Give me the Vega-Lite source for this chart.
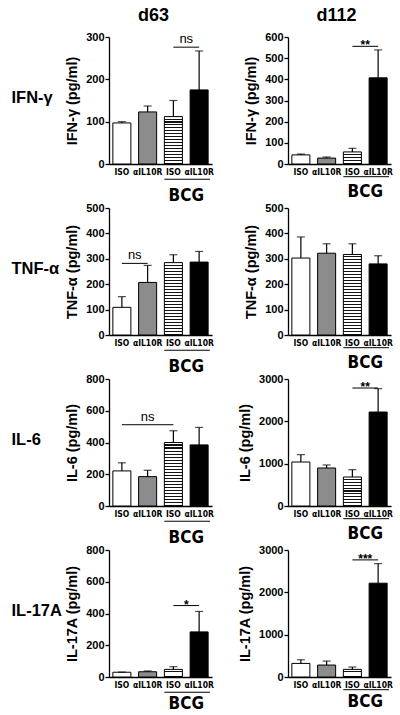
{
  "$schema": "https://vega.github.io/schema/vega-lite/v6.json",
  "padding": {"top": 7, "left": 0, "right": 0, "bottom": 0},
  "background": "white",
  "config": {
    "view": {"stroke": null},
    "font": "Liberation Sans",
    "title": {"font": "Liberation Sans", "fontSize": 18, "fontWeight": "bold", "color": "black", "offset": 6},
    "axis": {"domainColor": "black", "tickColor": "black", "labelColor": "black", "titleColor": "black", "labelFont": "Liberation Sans", "titleFont": "Liberation Sans", "labelFontWeight": "bold", "titleFontWeight": "bold", "grid": false, "domainWidth": 1.3, "tickWidth": 1.3},
    "axisY": {"labelFontSize": 11, "tickSize": 4, "labelPadding": 1, "titleFontSize": 14.5, "titlePadding": 6, "labelOverlap": false},
    "axisX": {"ticks": false, "labelAngle": 0, "labelFontSize": 8.5, "labelFont": "Liberation Sans Narrow, DejaVu Sans Condensed, Liberation Sans", "labelPadding": 3, "labelOverlap": false},
    "text": {"color": "black"}
  },
  "datasets": {
    "bars": [
      {"cyt": "IFN-γ", "day": "d63", "g": "ISO", "mean": 97, "hi": 100},
      {"cyt": "IFN-γ", "day": "d63", "g": "αIL10R", "mean": 123, "hi": 137},
      {"cyt": "IFN-γ", "day": "d63", "g": "BCG ISO", "mean": 112, "hi": 150},
      {"cyt": "IFN-γ", "day": "d63", "g": "BCG αIL10R", "mean": 175, "hi": 267},
      {"cyt": "IFN-γ", "day": "d112", "g": "ISO", "mean": 43, "hi": 47},
      {"cyt": "IFN-γ", "day": "d112", "g": "αIL10R", "mean": 28, "hi": 33},
      {"cyt": "IFN-γ", "day": "d112", "g": "BCG ISO", "mean": 57, "hi": 74},
      {"cyt": "IFN-γ", "day": "d112", "g": "BCG αIL10R", "mean": 407, "hi": 539},
      {"cyt": "TNF-α", "day": "d63", "g": "ISO", "mean": 109, "hi": 151},
      {"cyt": "TNF-α", "day": "d63", "g": "αIL10R", "mean": 207, "hi": 274},
      {"cyt": "TNF-α", "day": "d63", "g": "BCG ISO", "mean": 285, "hi": 316},
      {"cyt": "TNF-α", "day": "d63", "g": "BCG αIL10R", "mean": 287, "hi": 329},
      {"cyt": "TNF-α", "day": "d112", "g": "ISO", "mean": 303, "hi": 386},
      {"cyt": "TNF-α", "day": "d112", "g": "αIL10R", "mean": 322, "hi": 359},
      {"cyt": "TNF-α", "day": "d112", "g": "BCG ISO", "mean": 317, "hi": 359},
      {"cyt": "TNF-α", "day": "d112", "g": "BCG αIL10R", "mean": 280, "hi": 312},
      {"cyt": "IL-6", "day": "d63", "g": "ISO", "mean": 221, "hi": 272},
      {"cyt": "IL-6", "day": "d63", "g": "αIL10R", "mean": 185, "hi": 225},
      {"cyt": "IL-6", "day": "d63", "g": "BCG ISO", "mean": 400, "hi": 474},
      {"cyt": "IL-6", "day": "d63", "g": "BCG αIL10R", "mean": 385, "hi": 495},
      {"cyt": "IL-6", "day": "d112", "g": "ISO", "mean": 1039, "hi": 1213},
      {"cyt": "IL-6", "day": "d112", "g": "αIL10R", "mean": 898, "hi": 969},
      {"cyt": "IL-6", "day": "d112", "g": "BCG ISO", "mean": 685, "hi": 858},
      {"cyt": "IL-6", "day": "d112", "g": "BCG αIL10R", "mean": 2220, "hi": 2772},
      {"cyt": "IL-17A", "day": "d63", "g": "ISO", "mean": 30, "hi": 31},
      {"cyt": "IL-17A", "day": "d63", "g": "αIL10R", "mean": 33, "hi": 38},
      {"cyt": "IL-17A", "day": "d63", "g": "BCG ISO", "mean": 48, "hi": 65},
      {"cyt": "IL-17A", "day": "d63", "g": "BCG αIL10R", "mean": 284, "hi": 413},
      {"cyt": "IL-17A", "day": "d112", "g": "ISO", "mean": 321, "hi": 407},
      {"cyt": "IL-17A", "day": "d112", "g": "αIL10R", "mean": 282, "hi": 376},
      {"cyt": "IL-17A", "day": "d112", "g": "BCG ISO", "mean": 180, "hi": 235},
      {"cyt": "IL-17A", "day": "d112", "g": "BCG αIL10R", "mean": 2216, "hi": 2678}
    ],
    "sig": [
      {"cyt": "IFN-γ", "day": "d63", "from": "BCG ISO", "to": "BCG αIL10R", "y": 276, "label": "ns"},
      {"cyt": "IFN-γ", "day": "d112", "from": "BCG ISO", "to": "BCG αIL10R", "y": 556, "label": "**"},
      {"cyt": "TNF-α", "day": "d63", "from": "ISO", "to": "αIL10R", "y": 282, "label": "ns"},
      {"cyt": "IL-6", "day": "d63", "from": "ISO", "to": "BCG ISO", "y": 512, "label": "ns"},
      {"cyt": "IL-6", "day": "d112", "from": "BCG ISO", "to": "BCG αIL10R", "y": 2787, "label": "**"},
      {"cyt": "IL-17A", "day": "d63", "from": "BCG ISO", "to": "BCG αIL10R", "y": 450, "label": "*"},
      {"cyt": "IL-17A", "day": "d112", "from": "BCG ISO", "to": "BCG αIL10R", "y": 2766, "label": "***"}
    ],
    "bcg": [
      {"from": "BCG ISO", "to": "BCG αIL10R", "label": "BCG"}
    ]
  },
  "columns": 3,
  "align": "each",
  "bounds": "flush",
  "spacing": {"row": 44, "column": 76},
  "concat": [
    {"width": 33, "height": 127, "data": {"values": [{"t": "IFN-γ"}]}, "mark": {"type": "text", "align": "left", "baseline": "middle", "dx": -5, "dy": -3, "fontSize": 16.5, "fontWeight": "bold", "font": "Liberation Sans"}, "encoding": {"text": {"field": "t", "type": "nominal"}}},
    {
      "width": 103, "height": 127,
      "title": {"text": "d63", "dx": -7},
      "resolve": {"scale": {"y": "independent"}},
      "layer": [
        {"layer": [
          {"data": {"name": "bars"}, "transform": [{"filter": "datum.cyt === 'IFN-γ' && datum.day === 'd63'"}],
           "layer": [
             {"mark": {"type": "bar", "stroke": "black", "strokeWidth": 1},
              "encoding": {
                "x": {"field": "g", "type": "nominal", "sort": null, "title": null, "scale": {"domain": ["ISO", "αIL10R", "BCG ISO", "BCG αIL10R"], "paddingInner": 0.3, "paddingOuter": 0.15}, "axis": {"labelExpr": "replace(datum.label, 'BCG ', '')"}},
                "y": {"field": "mean", "type": "quantitative", "scale": {"domain": [0, 300]}, "axis": {"values": [0, 100, 200, 300], "tickCount": 4, "labelOverlap": false, "format": "d", "title": "IFN-γ (pg/ml)"}},
                "fill": {"condition": {"test": "datum.g === 'BCG ISO'", "value": {"gradient": "linear", "x1": 0, "y1": 0, "x2": 0, "y2": 1, "stops": [
                  {"offset":0,"color":"#fff"},{"offset":0.0406,"color":"#fff"},{"offset":0.0406,"color":"#111"},{"offset":0.0625,"color":"#111"},
                  {"offset":0.0625,"color":"#fff"},{"offset":0.1031,"color":"#fff"},{"offset":0.1031,"color":"#111"},{"offset":0.125,"color":"#111"},
                  {"offset":0.125,"color":"#fff"},{"offset":0.1656,"color":"#fff"},{"offset":0.1656,"color":"#111"},{"offset":0.1875,"color":"#111"},
                  {"offset":0.1875,"color":"#fff"},{"offset":0.2281,"color":"#fff"},{"offset":0.2281,"color":"#111"},{"offset":0.25,"color":"#111"},
                  {"offset":0.25,"color":"#fff"},{"offset":0.2906,"color":"#fff"},{"offset":0.2906,"color":"#111"},{"offset":0.3125,"color":"#111"},
                  {"offset":0.3125,"color":"#fff"},{"offset":0.3531,"color":"#fff"},{"offset":0.3531,"color":"#111"},{"offset":0.375,"color":"#111"},
                  {"offset":0.375,"color":"#fff"},{"offset":0.4156,"color":"#fff"},{"offset":0.4156,"color":"#111"},{"offset":0.4375,"color":"#111"},
                  {"offset":0.4375,"color":"#fff"},{"offset":0.4781,"color":"#fff"},{"offset":0.4781,"color":"#111"},{"offset":0.5,"color":"#111"},
                  {"offset":0.5,"color":"#fff"},{"offset":0.5406,"color":"#fff"},{"offset":0.5406,"color":"#111"},{"offset":0.5625,"color":"#111"},
                  {"offset":0.5625,"color":"#fff"},{"offset":0.6031,"color":"#fff"},{"offset":0.6031,"color":"#111"},{"offset":0.625,"color":"#111"},
                  {"offset":0.625,"color":"#fff"},{"offset":0.6656,"color":"#fff"},{"offset":0.6656,"color":"#111"},{"offset":0.6875,"color":"#111"},
                  {"offset":0.6875,"color":"#fff"},{"offset":0.7281,"color":"#fff"},{"offset":0.7281,"color":"#111"},{"offset":0.75,"color":"#111"},
                  {"offset":0.75,"color":"#fff"},{"offset":0.7906,"color":"#fff"},{"offset":0.7906,"color":"#111"},{"offset":0.8125,"color":"#111"},
                  {"offset":0.8125,"color":"#fff"},{"offset":0.8531,"color":"#fff"},{"offset":0.8531,"color":"#111"},{"offset":0.875,"color":"#111"},
                  {"offset":0.875,"color":"#fff"},{"offset":0.9156,"color":"#fff"},{"offset":0.9156,"color":"#111"},{"offset":0.9375,"color":"#111"},
                  {"offset":0.9375,"color":"#fff"},{"offset":0.9781,"color":"#fff"},{"offset":0.9781,"color":"#111"},{"offset":1,"color":"#111"}]}},
                  "field": "g", "type": "nominal", "scale": {"domain": ["ISO", "αIL10R", "BCG ISO", "BCG αIL10R"], "range": ["#ffffff", "#8c8c8c", "#d0d0d0", "#000000"]}, "legend": null}}},
             {"mark": {"type": "rule", "color": "black", "strokeWidth": 1.2},
              "encoding": {"x": {"field": "g", "type": "nominal", "title": null}, "y": {"field": "mean", "type": "quantitative"}, "y2": {"field": "hi"}}},
             {"mark": {"type": "tick", "color": "black", "size": 8, "thickness": 1.2},
              "encoding": {"x": {"field": "g", "type": "nominal", "title": null}, "y": {"field": "hi", "type": "quantitative"}}}
           ]},
          {"data": {"name": "sig"}, "transform": [{"filter": "datum.cyt === 'IFN-γ' && datum.day === 'd63'"}],
           "layer": [
             {"mark": {"type": "rule", "color": "black", "strokeWidth": 1},
              "encoding": {"x": {"field": "from", "type": "nominal", "title": null}, "x2": {"field": "to"}, "y": {"field": "y", "type": "quantitative"}}},
             {"mark": {"type": "text", "fontSize": 13, "baseline": "alphabetic", "dy": -4},
              "encoding": {"x": {"field": "from", "type": "nominal", "bandPosition": 1.214, "title": null}, "y": {"field": "y", "type": "quantitative"}, "text": {"field": "label"}}}
           ]}
        ]},
        {"data": {"name": "bcg"},
         "layer": [
           {"mark": {"type": "rule", "color": "black", "strokeWidth": 1},
            "encoding": {"x": {"field": "from", "type": "nominal", "bandPosition": 0, "title": null}, "x2": {"field": "to", "bandPosition": 1.1}, "y": {"datum": -0.12, "type": "quantitative", "scale": {"domain": [0, 1]}, "axis": null}}},
           {"mark": {"type": "text", "font": "Liberation Sans Narrow, DejaVu Sans Condensed, Liberation Sans", "fontWeight": "bold", "fontSize": 17, "baseline": "alphabetic"},
            "encoding": {"x": {"field": "from", "type": "nominal", "bandPosition": 1.214, "title": null}, "y": {"datum": -0.29, "type": "quantitative", "scale": {"domain": [0, 1]}, "axis": null}, "text": {"field": "label"}}}
         ]}
      ]
    },
    {
      "width": 103, "height": 127,
      "title": {"text": "d112", "dx": -3},
      "resolve": {"scale": {"y": "independent"}},
      "layer": [
        {"layer": [
          {"data": {"name": "bars"}, "transform": [{"filter": "datum.cyt === 'IFN-γ' && datum.day === 'd112'"}],
           "layer": [
             {"mark": {"type": "bar", "stroke": "black", "strokeWidth": 1},
              "encoding": {
                "x": {"field": "g", "type": "nominal", "sort": null, "title": null, "scale": {"domain": ["ISO", "αIL10R", "BCG ISO", "BCG αIL10R"], "paddingInner": 0.3, "paddingOuter": 0.15}, "axis": {"labelExpr": "replace(datum.label, 'BCG ', '')"}},
                "y": {"field": "mean", "type": "quantitative", "scale": {"domain": [0, 600]}, "axis": {"values": [0, 100, 200, 300, 400, 500, 600], "tickCount": 7, "labelOverlap": false, "format": "d", "title": "IFN-γ (pg/ml)"}},
                "fill": {"condition": {"test": "datum.g === 'BCG ISO'", "value": {"gradient": "linear", "x1": 0, "y1": 0, "x2": 0, "y2": 1, "stops": [
                  {"offset":0,"color":"#fff"},{"offset":0.1625,"color":"#fff"},{"offset":0.1625,"color":"#111"},{"offset":0.25,"color":"#111"},
                  {"offset":0.25,"color":"#fff"},{"offset":0.4125,"color":"#fff"},{"offset":0.4125,"color":"#111"},{"offset":0.5,"color":"#111"},
                  {"offset":0.5,"color":"#fff"},{"offset":0.6625,"color":"#fff"},{"offset":0.6625,"color":"#111"},{"offset":0.75,"color":"#111"},
                  {"offset":0.75,"color":"#fff"},{"offset":0.9125,"color":"#fff"},{"offset":0.9125,"color":"#111"},{"offset":1,"color":"#111"}]}},
                  "field": "g", "type": "nominal", "scale": {"domain": ["ISO", "αIL10R", "BCG ISO", "BCG αIL10R"], "range": ["#ffffff", "#8c8c8c", "#d0d0d0", "#000000"]}, "legend": null}}},
             {"mark": {"type": "rule", "color": "black", "strokeWidth": 1.2},
              "encoding": {"x": {"field": "g", "type": "nominal", "title": null}, "y": {"field": "mean", "type": "quantitative"}, "y2": {"field": "hi"}}},
             {"mark": {"type": "tick", "color": "black", "size": 8, "thickness": 1.2},
              "encoding": {"x": {"field": "g", "type": "nominal", "title": null}, "y": {"field": "hi", "type": "quantitative"}}}
           ]},
          {"data": {"name": "sig"}, "transform": [{"filter": "datum.cyt === 'IFN-γ' && datum.day === 'd112'"}],
           "layer": [
             {"mark": {"type": "rule", "color": "black", "strokeWidth": 1},
              "encoding": {"x": {"field": "from", "type": "nominal", "title": null}, "x2": {"field": "to"}, "y": {"field": "y", "type": "quantitative"}}},
             {"mark": {"type": "text", "fontSize": 12, "fontWeight": "bold", "baseline": "alphabetic", "dy": 3},
              "encoding": {"x": {"field": "from", "type": "nominal", "bandPosition": 1.214, "title": null}, "y": {"field": "y", "type": "quantitative"}, "text": {"field": "label"}}}
           ]}
        ]},
        {"data": {"name": "bcg"},
         "layer": [
           {"mark": {"type": "rule", "color": "black", "strokeWidth": 1},
            "encoding": {"x": {"field": "from", "type": "nominal", "bandPosition": 0, "title": null}, "x2": {"field": "to", "bandPosition": 1.1}, "y": {"datum": -0.1, "type": "quantitative", "scale": {"domain": [0, 1]}, "axis": null}}},
           {"mark": {"type": "text", "font": "Liberation Sans Narrow, DejaVu Sans Condensed, Liberation Sans", "fontWeight": "bold", "fontSize": 17, "baseline": "alphabetic"},
            "encoding": {"x": {"field": "from", "type": "nominal", "bandPosition": 1.214, "title": null}, "y": {"datum": -0.26, "type": "quantitative", "scale": {"domain": [0, 1]}, "axis": null}, "text": {"field": "label"}}}
         ]}
      ]
    },
    {"width": 33, "height": 127, "data": {"values": [{"t": "TNF-α"}]}, "mark": {"type": "text", "align": "left", "baseline": "middle", "dx": -5, "dy": -3, "fontSize": 16.5, "fontWeight": "bold", "font": "Liberation Sans"}, "encoding": {"text": {"field": "t", "type": "nominal"}}},
    {
      "width": 103, "height": 127,
      "resolve": {"scale": {"y": "independent"}},
      "layer": [
        {"layer": [
          {"data": {"name": "bars"}, "transform": [{"filter": "datum.cyt === 'TNF-α' && datum.day === 'd63'"}],
           "layer": [
             {"mark": {"type": "bar", "stroke": "black", "strokeWidth": 1},
              "encoding": {
                "x": {"field": "g", "type": "nominal", "sort": null, "title": null, "scale": {"domain": ["ISO", "αIL10R", "BCG ISO", "BCG αIL10R"], "paddingInner": 0.3, "paddingOuter": 0.15}, "axis": {"labelExpr": "replace(datum.label, 'BCG ', '')"}},
                "y": {"field": "mean", "type": "quantitative", "scale": {"domain": [0, 500]}, "axis": {"values": [0, 100, 200, 300, 400, 500], "tickCount": 6, "labelOverlap": false, "format": "d", "title": "TNF-α (pg/ml)"}},
                "fill": {"condition": {"test": "datum.g === 'BCG ISO'", "value": {"gradient": "linear", "x1": 0, "y1": 0, "x2": 0, "y2": 1, "stops": [
                  {"offset":0,"color":"#fff"},{"offset":0.0271,"color":"#fff"},{"offset":0.0271,"color":"#111"},{"offset":0.0417,"color":"#111"},
                  {"offset":0.0417,"color":"#fff"},{"offset":0.0688,"color":"#fff"},{"offset":0.0688,"color":"#111"},{"offset":0.0833,"color":"#111"},
                  {"offset":0.0833,"color":"#fff"},{"offset":0.1104,"color":"#fff"},{"offset":0.1104,"color":"#111"},{"offset":0.125,"color":"#111"},
                  {"offset":0.125,"color":"#fff"},{"offset":0.1521,"color":"#fff"},{"offset":0.1521,"color":"#111"},{"offset":0.1667,"color":"#111"},
                  {"offset":0.1667,"color":"#fff"},{"offset":0.1938,"color":"#fff"},{"offset":0.1938,"color":"#111"},{"offset":0.2083,"color":"#111"},
                  {"offset":0.2083,"color":"#fff"},{"offset":0.2354,"color":"#fff"},{"offset":0.2354,"color":"#111"},{"offset":0.25,"color":"#111"},
                  {"offset":0.25,"color":"#fff"},{"offset":0.2771,"color":"#fff"},{"offset":0.2771,"color":"#111"},{"offset":0.2917,"color":"#111"},
                  {"offset":0.2917,"color":"#fff"},{"offset":0.3188,"color":"#fff"},{"offset":0.3188,"color":"#111"},{"offset":0.3333,"color":"#111"},
                  {"offset":0.3333,"color":"#fff"},{"offset":0.3604,"color":"#fff"},{"offset":0.3604,"color":"#111"},{"offset":0.375,"color":"#111"},
                  {"offset":0.375,"color":"#fff"},{"offset":0.4021,"color":"#fff"},{"offset":0.4021,"color":"#111"},{"offset":0.4167,"color":"#111"},
                  {"offset":0.4167,"color":"#fff"},{"offset":0.4438,"color":"#fff"},{"offset":0.4438,"color":"#111"},{"offset":0.4583,"color":"#111"},
                  {"offset":0.4583,"color":"#fff"},{"offset":0.4854,"color":"#fff"},{"offset":0.4854,"color":"#111"},{"offset":0.5,"color":"#111"},
                  {"offset":0.5,"color":"#fff"},{"offset":0.5271,"color":"#fff"},{"offset":0.5271,"color":"#111"},{"offset":0.5417,"color":"#111"},
                  {"offset":0.5417,"color":"#fff"},{"offset":0.5688,"color":"#fff"},{"offset":0.5688,"color":"#111"},{"offset":0.5833,"color":"#111"},
                  {"offset":0.5833,"color":"#fff"},{"offset":0.6104,"color":"#fff"},{"offset":0.6104,"color":"#111"},{"offset":0.625,"color":"#111"},
                  {"offset":0.625,"color":"#fff"},{"offset":0.6521,"color":"#fff"},{"offset":0.6521,"color":"#111"},{"offset":0.6667,"color":"#111"},
                  {"offset":0.6667,"color":"#fff"},{"offset":0.6938,"color":"#fff"},{"offset":0.6938,"color":"#111"},{"offset":0.7083,"color":"#111"},
                  {"offset":0.7083,"color":"#fff"},{"offset":0.7354,"color":"#fff"},{"offset":0.7354,"color":"#111"},{"offset":0.75,"color":"#111"},
                  {"offset":0.75,"color":"#fff"},{"offset":0.7771,"color":"#fff"},{"offset":0.7771,"color":"#111"},{"offset":0.7917,"color":"#111"},
                  {"offset":0.7917,"color":"#fff"},{"offset":0.8188,"color":"#fff"},{"offset":0.8188,"color":"#111"},{"offset":0.8333,"color":"#111"},
                  {"offset":0.8333,"color":"#fff"},{"offset":0.8604,"color":"#fff"},{"offset":0.8604,"color":"#111"},{"offset":0.875,"color":"#111"},
                  {"offset":0.875,"color":"#fff"},{"offset":0.9021,"color":"#fff"},{"offset":0.9021,"color":"#111"},{"offset":0.9167,"color":"#111"},
                  {"offset":0.9167,"color":"#fff"},{"offset":0.9438,"color":"#fff"},{"offset":0.9438,"color":"#111"},{"offset":0.9583,"color":"#111"},
                  {"offset":0.9583,"color":"#fff"},{"offset":0.9854,"color":"#fff"},{"offset":0.9854,"color":"#111"},{"offset":1,"color":"#111"}]}},
                  "field": "g", "type": "nominal", "scale": {"domain": ["ISO", "αIL10R", "BCG ISO", "BCG αIL10R"], "range": ["#ffffff", "#8c8c8c", "#d0d0d0", "#000000"]}, "legend": null}}},
             {"mark": {"type": "rule", "color": "black", "strokeWidth": 1.2},
              "encoding": {"x": {"field": "g", "type": "nominal", "title": null}, "y": {"field": "mean", "type": "quantitative"}, "y2": {"field": "hi"}}},
             {"mark": {"type": "tick", "color": "black", "size": 8, "thickness": 1.2},
              "encoding": {"x": {"field": "g", "type": "nominal", "title": null}, "y": {"field": "hi", "type": "quantitative"}}}
           ]},
          {"data": {"name": "sig"}, "transform": [{"filter": "datum.cyt === 'TNF-α' && datum.day === 'd63'"}],
           "layer": [
             {"mark": {"type": "rule", "color": "black", "strokeWidth": 1},
              "encoding": {"x": {"field": "from", "type": "nominal", "title": null}, "x2": {"field": "to"}, "y": {"field": "y", "type": "quantitative"}}},
             {"mark": {"type": "text", "fontSize": 13, "baseline": "alphabetic", "dy": -4},
              "encoding": {"x": {"field": "from", "type": "nominal", "bandPosition": 1.214, "title": null}, "y": {"field": "y", "type": "quantitative"}, "text": {"field": "label"}}}
           ]}
        ]},
        {"data": {"name": "bcg"},
         "layer": [
           {"mark": {"type": "rule", "color": "black", "strokeWidth": 1},
            "encoding": {"x": {"field": "from", "type": "nominal", "bandPosition": 0, "title": null}, "x2": {"field": "to", "bandPosition": 1.1}, "y": {"datum": -0.12, "type": "quantitative", "scale": {"domain": [0, 1]}, "axis": null}}},
           {"mark": {"type": "text", "font": "Liberation Sans Narrow, DejaVu Sans Condensed, Liberation Sans", "fontWeight": "bold", "fontSize": 17, "baseline": "alphabetic"},
            "encoding": {"x": {"field": "from", "type": "nominal", "bandPosition": 1.214, "title": null}, "y": {"datum": -0.29, "type": "quantitative", "scale": {"domain": [0, 1]}, "axis": null}, "text": {"field": "label"}}}
         ]}
      ]
    },
    {
      "width": 103, "height": 127,
      "resolve": {"scale": {"y": "independent"}},
      "layer": [
        {"layer": [
          {"data": {"name": "bars"}, "transform": [{"filter": "datum.cyt === 'TNF-α' && datum.day === 'd112'"}],
           "layer": [
             {"mark": {"type": "bar", "stroke": "black", "strokeWidth": 1},
              "encoding": {
                "x": {"field": "g", "type": "nominal", "sort": null, "title": null, "scale": {"domain": ["ISO", "αIL10R", "BCG ISO", "BCG αIL10R"], "paddingInner": 0.3, "paddingOuter": 0.15}, "axis": {"labelExpr": "replace(datum.label, 'BCG ', '')"}},
                "y": {"field": "mean", "type": "quantitative", "scale": {"domain": [0, 500]}, "axis": {"values": [0, 100, 200, 300, 400, 500], "tickCount": 6, "labelOverlap": false, "format": "d", "title": "TNF-α (pg/ml)"}},
                "fill": {"condition": {"test": "datum.g === 'BCG ISO'", "value": {"gradient": "linear", "x1": 0, "y1": 0, "x2": 0, "y2": 1, "stops": [
                  {"offset":0,"color":"#fff"},{"offset":0.0241,"color":"#fff"},{"offset":0.0241,"color":"#111"},{"offset":0.037,"color":"#111"},
                  {"offset":0.037,"color":"#fff"},{"offset":0.0611,"color":"#fff"},{"offset":0.0611,"color":"#111"},{"offset":0.0741,"color":"#111"},
                  {"offset":0.0741,"color":"#fff"},{"offset":0.0981,"color":"#fff"},{"offset":0.0981,"color":"#111"},{"offset":0.1111,"color":"#111"},
                  {"offset":0.1111,"color":"#fff"},{"offset":0.1352,"color":"#fff"},{"offset":0.1352,"color":"#111"},{"offset":0.1481,"color":"#111"},
                  {"offset":0.1481,"color":"#fff"},{"offset":0.1722,"color":"#fff"},{"offset":0.1722,"color":"#111"},{"offset":0.1852,"color":"#111"},
                  {"offset":0.1852,"color":"#fff"},{"offset":0.2093,"color":"#fff"},{"offset":0.2093,"color":"#111"},{"offset":0.2222,"color":"#111"},
                  {"offset":0.2222,"color":"#fff"},{"offset":0.2463,"color":"#fff"},{"offset":0.2463,"color":"#111"},{"offset":0.2593,"color":"#111"},
                  {"offset":0.2593,"color":"#fff"},{"offset":0.2833,"color":"#fff"},{"offset":0.2833,"color":"#111"},{"offset":0.2963,"color":"#111"},
                  {"offset":0.2963,"color":"#fff"},{"offset":0.3204,"color":"#fff"},{"offset":0.3204,"color":"#111"},{"offset":0.3333,"color":"#111"},
                  {"offset":0.3333,"color":"#fff"},{"offset":0.3574,"color":"#fff"},{"offset":0.3574,"color":"#111"},{"offset":0.3704,"color":"#111"},
                  {"offset":0.3704,"color":"#fff"},{"offset":0.3944,"color":"#fff"},{"offset":0.3944,"color":"#111"},{"offset":0.4074,"color":"#111"},
                  {"offset":0.4074,"color":"#fff"},{"offset":0.4315,"color":"#fff"},{"offset":0.4315,"color":"#111"},{"offset":0.4444,"color":"#111"},
                  {"offset":0.4444,"color":"#fff"},{"offset":0.4685,"color":"#fff"},{"offset":0.4685,"color":"#111"},{"offset":0.4815,"color":"#111"},
                  {"offset":0.4815,"color":"#fff"},{"offset":0.5056,"color":"#fff"},{"offset":0.5056,"color":"#111"},{"offset":0.5185,"color":"#111"},
                  {"offset":0.5185,"color":"#fff"},{"offset":0.5426,"color":"#fff"},{"offset":0.5426,"color":"#111"},{"offset":0.5556,"color":"#111"},
                  {"offset":0.5556,"color":"#fff"},{"offset":0.5796,"color":"#fff"},{"offset":0.5796,"color":"#111"},{"offset":0.5926,"color":"#111"},
                  {"offset":0.5926,"color":"#fff"},{"offset":0.6167,"color":"#fff"},{"offset":0.6167,"color":"#111"},{"offset":0.6296,"color":"#111"},
                  {"offset":0.6296,"color":"#fff"},{"offset":0.6537,"color":"#fff"},{"offset":0.6537,"color":"#111"},{"offset":0.6667,"color":"#111"},
                  {"offset":0.6667,"color":"#fff"},{"offset":0.6907,"color":"#fff"},{"offset":0.6907,"color":"#111"},{"offset":0.7037,"color":"#111"},
                  {"offset":0.7037,"color":"#fff"},{"offset":0.7278,"color":"#fff"},{"offset":0.7278,"color":"#111"},{"offset":0.7407,"color":"#111"},
                  {"offset":0.7407,"color":"#fff"},{"offset":0.7648,"color":"#fff"},{"offset":0.7648,"color":"#111"},{"offset":0.7778,"color":"#111"},
                  {"offset":0.7778,"color":"#fff"},{"offset":0.8019,"color":"#fff"},{"offset":0.8019,"color":"#111"},{"offset":0.8148,"color":"#111"},
                  {"offset":0.8148,"color":"#fff"},{"offset":0.8389,"color":"#fff"},{"offset":0.8389,"color":"#111"},{"offset":0.8519,"color":"#111"},
                  {"offset":0.8519,"color":"#fff"},{"offset":0.8759,"color":"#fff"},{"offset":0.8759,"color":"#111"},{"offset":0.8889,"color":"#111"},
                  {"offset":0.8889,"color":"#fff"},{"offset":0.913,"color":"#fff"},{"offset":0.913,"color":"#111"},{"offset":0.9259,"color":"#111"},
                  {"offset":0.9259,"color":"#fff"},{"offset":0.95,"color":"#fff"},{"offset":0.95,"color":"#111"},{"offset":0.963,"color":"#111"},
                  {"offset":0.963,"color":"#fff"},{"offset":0.987,"color":"#fff"},{"offset":0.987,"color":"#111"},{"offset":1,"color":"#111"}]}},
                  "field": "g", "type": "nominal", "scale": {"domain": ["ISO", "αIL10R", "BCG ISO", "BCG αIL10R"], "range": ["#ffffff", "#8c8c8c", "#d0d0d0", "#000000"]}, "legend": null}}},
             {"mark": {"type": "rule", "color": "black", "strokeWidth": 1.2},
              "encoding": {"x": {"field": "g", "type": "nominal", "title": null}, "y": {"field": "mean", "type": "quantitative"}, "y2": {"field": "hi"}}},
             {"mark": {"type": "tick", "color": "black", "size": 8, "thickness": 1.2},
              "encoding": {"x": {"field": "g", "type": "nominal", "title": null}, "y": {"field": "hi", "type": "quantitative"}}}
           ]}
        ]},
        {"data": {"name": "bcg"},
         "layer": [
           {"mark": {"type": "rule", "color": "black", "strokeWidth": 1},
            "encoding": {"x": {"field": "from", "type": "nominal", "bandPosition": 0, "title": null}, "x2": {"field": "to", "bandPosition": 1.1}, "y": {"datum": -0.1, "type": "quantitative", "scale": {"domain": [0, 1]}, "axis": null}}},
           {"mark": {"type": "text", "font": "Liberation Sans Narrow, DejaVu Sans Condensed, Liberation Sans", "fontWeight": "bold", "fontSize": 17, "baseline": "alphabetic"},
            "encoding": {"x": {"field": "from", "type": "nominal", "bandPosition": 1.214, "title": null}, "y": {"datum": -0.26, "type": "quantitative", "scale": {"domain": [0, 1]}, "axis": null}, "text": {"field": "label"}}}
         ]}
      ]
    },
    {"width": 33, "height": 127, "data": {"values": [{"t": "IL-6"}]}, "mark": {"type": "text", "align": "left", "baseline": "middle", "dx": -5, "dy": -3, "fontSize": 16.5, "fontWeight": "bold", "font": "Liberation Sans"}, "encoding": {"text": {"field": "t", "type": "nominal"}}},
    {
      "width": 103, "height": 127,
      "resolve": {"scale": {"y": "independent"}},
      "layer": [
        {"layer": [
          {"data": {"name": "bars"}, "transform": [{"filter": "datum.cyt === 'IL-6' && datum.day === 'd63'"}],
           "layer": [
             {"mark": {"type": "bar", "stroke": "black", "strokeWidth": 1},
              "encoding": {
                "x": {"field": "g", "type": "nominal", "sort": null, "title": null, "scale": {"domain": ["ISO", "αIL10R", "BCG ISO", "BCG αIL10R"], "paddingInner": 0.3, "paddingOuter": 0.15}, "axis": {"labelExpr": "replace(datum.label, 'BCG ', '')"}},
                "y": {"field": "mean", "type": "quantitative", "scale": {"domain": [0, 800]}, "axis": {"values": [0, 200, 400, 600, 800], "tickCount": 5, "labelOverlap": false, "format": "d", "title": "IL-6 (pg/ml)"}},
                "fill": {"condition": {"test": "datum.g === 'BCG ISO'", "value": {"gradient": "linear", "x1": 0, "y1": 0, "x2": 0, "y2": 1, "stops": [
                  {"offset":0,"color":"#fff"},{"offset":0.031,"color":"#fff"},{"offset":0.031,"color":"#111"},{"offset":0.0476,"color":"#111"},
                  {"offset":0.0476,"color":"#fff"},{"offset":0.0786,"color":"#fff"},{"offset":0.0786,"color":"#111"},{"offset":0.0952,"color":"#111"},
                  {"offset":0.0952,"color":"#fff"},{"offset":0.1262,"color":"#fff"},{"offset":0.1262,"color":"#111"},{"offset":0.1429,"color":"#111"},
                  {"offset":0.1429,"color":"#fff"},{"offset":0.1738,"color":"#fff"},{"offset":0.1738,"color":"#111"},{"offset":0.1905,"color":"#111"},
                  {"offset":0.1905,"color":"#fff"},{"offset":0.2214,"color":"#fff"},{"offset":0.2214,"color":"#111"},{"offset":0.2381,"color":"#111"},
                  {"offset":0.2381,"color":"#fff"},{"offset":0.269,"color":"#fff"},{"offset":0.269,"color":"#111"},{"offset":0.2857,"color":"#111"},
                  {"offset":0.2857,"color":"#fff"},{"offset":0.3167,"color":"#fff"},{"offset":0.3167,"color":"#111"},{"offset":0.3333,"color":"#111"},
                  {"offset":0.3333,"color":"#fff"},{"offset":0.3643,"color":"#fff"},{"offset":0.3643,"color":"#111"},{"offset":0.381,"color":"#111"},
                  {"offset":0.381,"color":"#fff"},{"offset":0.4119,"color":"#fff"},{"offset":0.4119,"color":"#111"},{"offset":0.4286,"color":"#111"},
                  {"offset":0.4286,"color":"#fff"},{"offset":0.4595,"color":"#fff"},{"offset":0.4595,"color":"#111"},{"offset":0.4762,"color":"#111"},
                  {"offset":0.4762,"color":"#fff"},{"offset":0.5071,"color":"#fff"},{"offset":0.5071,"color":"#111"},{"offset":0.5238,"color":"#111"},
                  {"offset":0.5238,"color":"#fff"},{"offset":0.5548,"color":"#fff"},{"offset":0.5548,"color":"#111"},{"offset":0.5714,"color":"#111"},
                  {"offset":0.5714,"color":"#fff"},{"offset":0.6024,"color":"#fff"},{"offset":0.6024,"color":"#111"},{"offset":0.619,"color":"#111"},
                  {"offset":0.619,"color":"#fff"},{"offset":0.65,"color":"#fff"},{"offset":0.65,"color":"#111"},{"offset":0.6667,"color":"#111"},
                  {"offset":0.6667,"color":"#fff"},{"offset":0.6976,"color":"#fff"},{"offset":0.6976,"color":"#111"},{"offset":0.7143,"color":"#111"},
                  {"offset":0.7143,"color":"#fff"},{"offset":0.7452,"color":"#fff"},{"offset":0.7452,"color":"#111"},{"offset":0.7619,"color":"#111"},
                  {"offset":0.7619,"color":"#fff"},{"offset":0.7929,"color":"#fff"},{"offset":0.7929,"color":"#111"},{"offset":0.8095,"color":"#111"},
                  {"offset":0.8095,"color":"#fff"},{"offset":0.8405,"color":"#fff"},{"offset":0.8405,"color":"#111"},{"offset":0.8571,"color":"#111"},
                  {"offset":0.8571,"color":"#fff"},{"offset":0.8881,"color":"#fff"},{"offset":0.8881,"color":"#111"},{"offset":0.9048,"color":"#111"},
                  {"offset":0.9048,"color":"#fff"},{"offset":0.9357,"color":"#fff"},{"offset":0.9357,"color":"#111"},{"offset":0.9524,"color":"#111"},
                  {"offset":0.9524,"color":"#fff"},{"offset":0.9833,"color":"#fff"},{"offset":0.9833,"color":"#111"},{"offset":1,"color":"#111"}]}},
                  "field": "g", "type": "nominal", "scale": {"domain": ["ISO", "αIL10R", "BCG ISO", "BCG αIL10R"], "range": ["#ffffff", "#8c8c8c", "#d0d0d0", "#000000"]}, "legend": null}}},
             {"mark": {"type": "rule", "color": "black", "strokeWidth": 1.2},
              "encoding": {"x": {"field": "g", "type": "nominal", "title": null}, "y": {"field": "mean", "type": "quantitative"}, "y2": {"field": "hi"}}},
             {"mark": {"type": "tick", "color": "black", "size": 8, "thickness": 1.2},
              "encoding": {"x": {"field": "g", "type": "nominal", "title": null}, "y": {"field": "hi", "type": "quantitative"}}}
           ]},
          {"data": {"name": "sig"}, "transform": [{"filter": "datum.cyt === 'IL-6' && datum.day === 'd63'"}],
           "layer": [
             {"mark": {"type": "rule", "color": "black", "strokeWidth": 1},
              "encoding": {"x": {"field": "from", "type": "nominal", "title": null}, "x2": {"field": "to"}, "y": {"field": "y", "type": "quantitative"}}},
             {"mark": {"type": "text", "fontSize": 13, "baseline": "alphabetic", "dy": -4},
              "encoding": {"x": {"field": "from", "type": "nominal", "bandPosition": 1.929, "title": null}, "y": {"field": "y", "type": "quantitative"}, "text": {"field": "label"}}}
           ]}
        ]},
        {"data": {"name": "bcg"},
         "layer": [
           {"mark": {"type": "rule", "color": "black", "strokeWidth": 1},
            "encoding": {"x": {"field": "from", "type": "nominal", "bandPosition": 0, "title": null}, "x2": {"field": "to", "bandPosition": 1.1}, "y": {"datum": -0.12, "type": "quantitative", "scale": {"domain": [0, 1]}, "axis": null}}},
           {"mark": {"type": "text", "font": "Liberation Sans Narrow, DejaVu Sans Condensed, Liberation Sans", "fontWeight": "bold", "fontSize": 17, "baseline": "alphabetic"},
            "encoding": {"x": {"field": "from", "type": "nominal", "bandPosition": 1.214, "title": null}, "y": {"datum": -0.29, "type": "quantitative", "scale": {"domain": [0, 1]}, "axis": null}, "text": {"field": "label"}}}
         ]}
      ]
    },
    {
      "width": 103, "height": 127,
      "resolve": {"scale": {"y": "independent"}},
      "layer": [
        {"layer": [
          {"data": {"name": "bars"}, "transform": [{"filter": "datum.cyt === 'IL-6' && datum.day === 'd112'"}],
           "layer": [
             {"mark": {"type": "bar", "stroke": "black", "strokeWidth": 1},
              "encoding": {
                "x": {"field": "g", "type": "nominal", "sort": null, "title": null, "scale": {"domain": ["ISO", "αIL10R", "BCG ISO", "BCG αIL10R"], "paddingInner": 0.3, "paddingOuter": 0.15}, "axis": {"labelExpr": "replace(datum.label, 'BCG ', '')"}},
                "y": {"field": "mean", "type": "quantitative", "scale": {"domain": [0, 3000]}, "axis": {"values": [0, 1000, 2000, 3000], "tickCount": 4, "labelOverlap": false, "format": "d", "title": "IL-6 (pg/ml)"}},
                "fill": {"condition": {"test": "datum.g === 'BCG ISO'", "value": {"gradient": "linear", "x1": 0, "y1": 0, "x2": 0, "y2": 1, "stops": [
                  {"offset":0,"color":"#fff"},{"offset":0.065,"color":"#fff"},{"offset":0.065,"color":"#111"},{"offset":0.1,"color":"#111"},
                  {"offset":0.1,"color":"#fff"},{"offset":0.165,"color":"#fff"},{"offset":0.165,"color":"#111"},{"offset":0.2,"color":"#111"},
                  {"offset":0.2,"color":"#fff"},{"offset":0.265,"color":"#fff"},{"offset":0.265,"color":"#111"},{"offset":0.3,"color":"#111"},
                  {"offset":0.3,"color":"#fff"},{"offset":0.365,"color":"#fff"},{"offset":0.365,"color":"#111"},{"offset":0.4,"color":"#111"},
                  {"offset":0.4,"color":"#fff"},{"offset":0.465,"color":"#fff"},{"offset":0.465,"color":"#111"},{"offset":0.5,"color":"#111"},
                  {"offset":0.5,"color":"#fff"},{"offset":0.565,"color":"#fff"},{"offset":0.565,"color":"#111"},{"offset":0.6,"color":"#111"},
                  {"offset":0.6,"color":"#fff"},{"offset":0.665,"color":"#fff"},{"offset":0.665,"color":"#111"},{"offset":0.7,"color":"#111"},
                  {"offset":0.7,"color":"#fff"},{"offset":0.765,"color":"#fff"},{"offset":0.765,"color":"#111"},{"offset":0.8,"color":"#111"},
                  {"offset":0.8,"color":"#fff"},{"offset":0.865,"color":"#fff"},{"offset":0.865,"color":"#111"},{"offset":0.9,"color":"#111"},
                  {"offset":0.9,"color":"#fff"},{"offset":0.965,"color":"#fff"},{"offset":0.965,"color":"#111"},{"offset":1,"color":"#111"}]}},
                  "field": "g", "type": "nominal", "scale": {"domain": ["ISO", "αIL10R", "BCG ISO", "BCG αIL10R"], "range": ["#ffffff", "#8c8c8c", "#d0d0d0", "#000000"]}, "legend": null}}},
             {"mark": {"type": "rule", "color": "black", "strokeWidth": 1.2},
              "encoding": {"x": {"field": "g", "type": "nominal", "title": null}, "y": {"field": "mean", "type": "quantitative"}, "y2": {"field": "hi"}}},
             {"mark": {"type": "tick", "color": "black", "size": 8, "thickness": 1.2},
              "encoding": {"x": {"field": "g", "type": "nominal", "title": null}, "y": {"field": "hi", "type": "quantitative"}}}
           ]},
          {"data": {"name": "sig"}, "transform": [{"filter": "datum.cyt === 'IL-6' && datum.day === 'd112'"}],
           "layer": [
             {"mark": {"type": "rule", "color": "black", "strokeWidth": 1},
              "encoding": {"x": {"field": "from", "type": "nominal", "title": null}, "x2": {"field": "to"}, "y": {"field": "y", "type": "quantitative"}}},
             {"mark": {"type": "text", "fontSize": 12, "fontWeight": "bold", "baseline": "alphabetic", "dy": 3},
              "encoding": {"x": {"field": "from", "type": "nominal", "bandPosition": 1.214, "title": null}, "y": {"field": "y", "type": "quantitative"}, "text": {"field": "label"}}}
           ]}
        ]},
        {"data": {"name": "bcg"},
         "layer": [
           {"mark": {"type": "rule", "color": "black", "strokeWidth": 1},
            "encoding": {"x": {"field": "from", "type": "nominal", "bandPosition": 0, "title": null}, "x2": {"field": "to", "bandPosition": 1.1}, "y": {"datum": -0.1, "type": "quantitative", "scale": {"domain": [0, 1]}, "axis": null}}},
           {"mark": {"type": "text", "font": "Liberation Sans Narrow, DejaVu Sans Condensed, Liberation Sans", "fontWeight": "bold", "fontSize": 17, "baseline": "alphabetic"},
            "encoding": {"x": {"field": "from", "type": "nominal", "bandPosition": 1.214, "title": null}, "y": {"datum": -0.26, "type": "quantitative", "scale": {"domain": [0, 1]}, "axis": null}, "text": {"field": "label"}}}
         ]}
      ]
    },
    {"width": 33, "height": 127, "data": {"values": [{"t": "IL-17A"}]}, "mark": {"type": "text", "align": "left", "baseline": "middle", "dx": -5, "dy": -3, "fontSize": 16.5, "fontWeight": "bold", "font": "Liberation Sans"}, "encoding": {"text": {"field": "t", "type": "nominal"}}},
    {
      "width": 103, "height": 127,
      "resolve": {"scale": {"y": "independent"}},
      "layer": [
        {"layer": [
          {"data": {"name": "bars"}, "transform": [{"filter": "datum.cyt === 'IL-17A' && datum.day === 'd63'"}],
           "layer": [
             {"mark": {"type": "bar", "stroke": "black", "strokeWidth": 1},
              "encoding": {
                "x": {"field": "g", "type": "nominal", "sort": null, "title": null, "scale": {"domain": ["ISO", "αIL10R", "BCG ISO", "BCG αIL10R"], "paddingInner": 0.3, "paddingOuter": 0.15}, "axis": {"labelExpr": "replace(datum.label, 'BCG ', '')"}},
                "y": {"field": "mean", "type": "quantitative", "scale": {"domain": [0, 800]}, "axis": {"values": [0, 200, 400, 600, 800], "tickCount": 5, "labelOverlap": false, "format": "d", "title": "IL-17A (pg/ml)"}},
                "fill": {"condition": {"test": "datum.g === 'BCG ISO'", "value": {"gradient": "linear", "x1": 0, "y1": 0, "x2": 0, "y2": 1, "stops": [
                  {"offset":0,"color":"#fff"},{"offset":0.2167,"color":"#fff"},{"offset":0.2167,"color":"#111"},{"offset":0.3333,"color":"#111"},
                  {"offset":0.3333,"color":"#fff"},{"offset":0.55,"color":"#fff"},{"offset":0.55,"color":"#111"},{"offset":0.6667,"color":"#111"},
                  {"offset":0.6667,"color":"#fff"},{"offset":0.8833,"color":"#fff"},{"offset":0.8833,"color":"#111"},{"offset":1,"color":"#111"}]}},
                  "field": "g", "type": "nominal", "scale": {"domain": ["ISO", "αIL10R", "BCG ISO", "BCG αIL10R"], "range": ["#ffffff", "#8c8c8c", "#d0d0d0", "#000000"]}, "legend": null}}},
             {"mark": {"type": "rule", "color": "black", "strokeWidth": 1.2},
              "encoding": {"x": {"field": "g", "type": "nominal", "title": null}, "y": {"field": "mean", "type": "quantitative"}, "y2": {"field": "hi"}}},
             {"mark": {"type": "tick", "color": "black", "size": 8, "thickness": 1.2},
              "encoding": {"x": {"field": "g", "type": "nominal", "title": null}, "y": {"field": "hi", "type": "quantitative"}}}
           ]},
          {"data": {"name": "sig"}, "transform": [{"filter": "datum.cyt === 'IL-17A' && datum.day === 'd63'"}],
           "layer": [
             {"mark": {"type": "rule", "color": "black", "strokeWidth": 1},
              "encoding": {"x": {"field": "from", "type": "nominal", "title": null}, "x2": {"field": "to"}, "y": {"field": "y", "type": "quantitative"}}},
             {"mark": {"type": "text", "fontSize": 12, "fontWeight": "bold", "baseline": "alphabetic", "dy": 3},
              "encoding": {"x": {"field": "from", "type": "nominal", "bandPosition": 1.214, "title": null}, "y": {"field": "y", "type": "quantitative"}, "text": {"field": "label"}}}
           ]}
        ]},
        {"data": {"name": "bcg"},
         "layer": [
           {"mark": {"type": "rule", "color": "black", "strokeWidth": 1},
            "encoding": {"x": {"field": "from", "type": "nominal", "bandPosition": 0, "title": null}, "x2": {"field": "to", "bandPosition": 1.1}, "y": {"datum": -0.12, "type": "quantitative", "scale": {"domain": [0, 1]}, "axis": null}}},
           {"mark": {"type": "text", "font": "Liberation Sans Narrow, DejaVu Sans Condensed, Liberation Sans", "fontWeight": "bold", "fontSize": 17, "baseline": "alphabetic"},
            "encoding": {"x": {"field": "from", "type": "nominal", "bandPosition": 1.214, "title": null}, "y": {"datum": -0.25, "type": "quantitative", "scale": {"domain": [0, 1]}, "axis": null}, "text": {"field": "label"}}}
         ]}
      ]
    },
    {
      "width": 103, "height": 127,
      "resolve": {"scale": {"y": "independent"}},
      "layer": [
        {"layer": [
          {"data": {"name": "bars"}, "transform": [{"filter": "datum.cyt === 'IL-17A' && datum.day === 'd112'"}],
           "layer": [
             {"mark": {"type": "bar", "stroke": "black", "strokeWidth": 1},
              "encoding": {
                "x": {"field": "g", "type": "nominal", "sort": null, "title": null, "scale": {"domain": ["ISO", "αIL10R", "BCG ISO", "BCG αIL10R"], "paddingInner": 0.3, "paddingOuter": 0.15}, "axis": {"labelExpr": "replace(datum.label, 'BCG ', '')"}},
                "y": {"field": "mean", "type": "quantitative", "scale": {"domain": [0, 3000]}, "axis": {"values": [0, 1000, 2000, 3000], "tickCount": 4, "labelOverlap": false, "format": "d", "title": "IL-17A (pg/ml)"}},
                "fill": {"condition": {"test": "datum.g === 'BCG ISO'", "value": {"gradient": "linear", "x1": 0, "y1": 0, "x2": 0, "y2": 1, "stops": [
                  {"offset":0,"color":"#fff"},{"offset":0.2167,"color":"#fff"},{"offset":0.2167,"color":"#111"},{"offset":0.3333,"color":"#111"},
                  {"offset":0.3333,"color":"#fff"},{"offset":0.55,"color":"#fff"},{"offset":0.55,"color":"#111"},{"offset":0.6667,"color":"#111"},
                  {"offset":0.6667,"color":"#fff"},{"offset":0.8833,"color":"#fff"},{"offset":0.8833,"color":"#111"},{"offset":1,"color":"#111"}]}},
                  "field": "g", "type": "nominal", "scale": {"domain": ["ISO", "αIL10R", "BCG ISO", "BCG αIL10R"], "range": ["#ffffff", "#8c8c8c", "#d0d0d0", "#000000"]}, "legend": null}}},
             {"mark": {"type": "rule", "color": "black", "strokeWidth": 1.2},
              "encoding": {"x": {"field": "g", "type": "nominal", "title": null}, "y": {"field": "mean", "type": "quantitative"}, "y2": {"field": "hi"}}},
             {"mark": {"type": "tick", "color": "black", "size": 8, "thickness": 1.2},
              "encoding": {"x": {"field": "g", "type": "nominal", "title": null}, "y": {"field": "hi", "type": "quantitative"}}}
           ]},
          {"data": {"name": "sig"}, "transform": [{"filter": "datum.cyt === 'IL-17A' && datum.day === 'd112'"}],
           "layer": [
             {"mark": {"type": "rule", "color": "black", "strokeWidth": 1},
              "encoding": {"x": {"field": "from", "type": "nominal", "title": null}, "x2": {"field": "to"}, "y": {"field": "y", "type": "quantitative"}}},
             {"mark": {"type": "text", "fontSize": 12, "fontWeight": "bold", "baseline": "alphabetic", "dy": 3},
              "encoding": {"x": {"field": "from", "type": "nominal", "bandPosition": 1.214, "title": null}, "y": {"field": "y", "type": "quantitative"}, "text": {"field": "label"}}}
           ]}
        ]},
        {"data": {"name": "bcg"},
         "layer": [
           {"mark": {"type": "rule", "color": "black", "strokeWidth": 1},
            "encoding": {"x": {"field": "from", "type": "nominal", "bandPosition": 0, "title": null}, "x2": {"field": "to", "bandPosition": 1.1}, "y": {"datum": -0.1, "type": "quantitative", "scale": {"domain": [0, 1]}, "axis": null}}},
           {"mark": {"type": "text", "font": "Liberation Sans Narrow, DejaVu Sans Condensed, Liberation Sans", "fontWeight": "bold", "fontSize": 17, "baseline": "alphabetic"},
            "encoding": {"x": {"field": "from", "type": "nominal", "bandPosition": 1.214, "title": null}, "y": {"datum": -0.24, "type": "quantitative", "scale": {"domain": [0, 1]}, "axis": null}, "text": {"field": "label"}}}
         ]}
      ]
    }
  ]
}
